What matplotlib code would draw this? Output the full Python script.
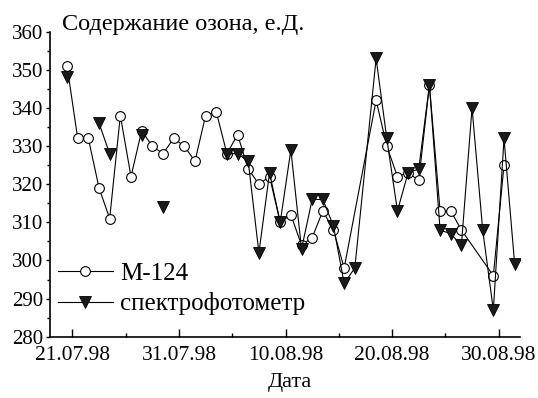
import numpy as np
import matplotlib
matplotlib.use("Agg")
import matplotlib.pyplot as plt
from matplotlib.ticker import MultipleLocator, FixedLocator

plt.rcParams['font.family'] = ['Liberation Serif', 'DejaVu Serif']

# Day index (0 = first observation day)
m124_days = list(range(0, 27)) + [29, 30, 31, 32, 33, 34, 35, 36, 37, 40, 41]
m124_vals = [351, 332, 332, 319, 311, 338, 322, 334, 330, 328, 332, 330, 326, 338,
             339, 328, 333, 324, 320, 322, 310, 312, 304, 306, 313, 308, 298,
             342, 330, 322, 323, 321, 346, 313, 313, 308, 296, 325]

spec_days = list(range(0, 28)) + list(range(29, 43))
nan = np.nan
spec_vals = [348, nan, nan, 336, 328, nan, nan, 333, nan, 314, nan, nan, nan, nan,
             nan, 328, 328, 326, 302, 323, 310, 329, 303, 316, 316, 309, 294, 298,
             353, 332, 313, 323, 324, 346, 308, 307, 304, 340, 308, 287, 332, 299]

tick_pos = [0.5, 10.5, 20.5, 30.5, 40.5]
tick_labels = ['21.07.98', '31.07.98', '10.08.98', '20.08.98', '30.08.98']
minor_pos = [5.5, 15.5, 25.5, 35.5]

W, H = 538, 398
fig = plt.figure(figsize=(W / 100, H / 100), dpi=100)
L, R, T, B = 50, 520, 31.7, 336.7
ax = fig.add_axes([L / W, 1 - B / H, (R - L) / W, (B - T) / H])

ax.plot(m124_days, m124_vals, color='black', lw=0.8, marker='o', ms=7,
        mfc='white', mec='black', mew=0.8, label='М-124', zorder=2)
ax.plot(spec_days, np.array(spec_vals, dtype=float), color='black', lw=0.8,
        marker='v', ms=8.5, mfc='#1a1a1a', mec='black', mew=0.6,
        label='спектрофотометр', zorder=3)

ax.set_xlim(-1.6, 42.5)
ax.set_ylim(280, 360)
ax.yaxis.set_major_locator(MultipleLocator(10))
ax.yaxis.set_minor_locator(MultipleLocator(5))
ax.xaxis.set_major_locator(FixedLocator(tick_pos))
ax.xaxis.set_minor_locator(FixedLocator(minor_pos))
ax.set_xticklabels(tick_labels)

for s in ['top', 'right']:
    ax.spines[s].set_visible(False)
for s in ['left', 'bottom']:
    ax.spines[s].set_linewidth(1.2)

ax.tick_params(axis='y', which='major', direction='out', length=3, width=1, labelsize=15, pad=2)
ax.tick_params(axis='y', which='minor', direction='out', length=2.5, width=1)
ax.tick_params(axis='x', which='major', direction='in', length=5.5, width=1, labelsize=15.5, pad=6.5)
ax.tick_params(axis='x', which='minor', direction='in', length=3, width=1)

ax.text((62 - L) / (R - L), (B - 30) / (B - T), 'Содержание озона, е.Д.',
        transform=ax.transAxes, fontsize=17.5, ha='left', va='baseline', clip_on=False)
fig.text(290 / W, 1 - 382 / H, 'Дата', fontsize=16, ha='center', va='center')

leg = ax.legend(loc='lower left', bbox_to_anchor=(0.0, 0.045), frameon=False,
                prop={'size': 18}, handlelength=2.2, handletextpad=0.3,
                labelspacing=0.3, borderpad=0.3, borderaxespad=0.0)

fig.savefig('out.png', dpi=100)
